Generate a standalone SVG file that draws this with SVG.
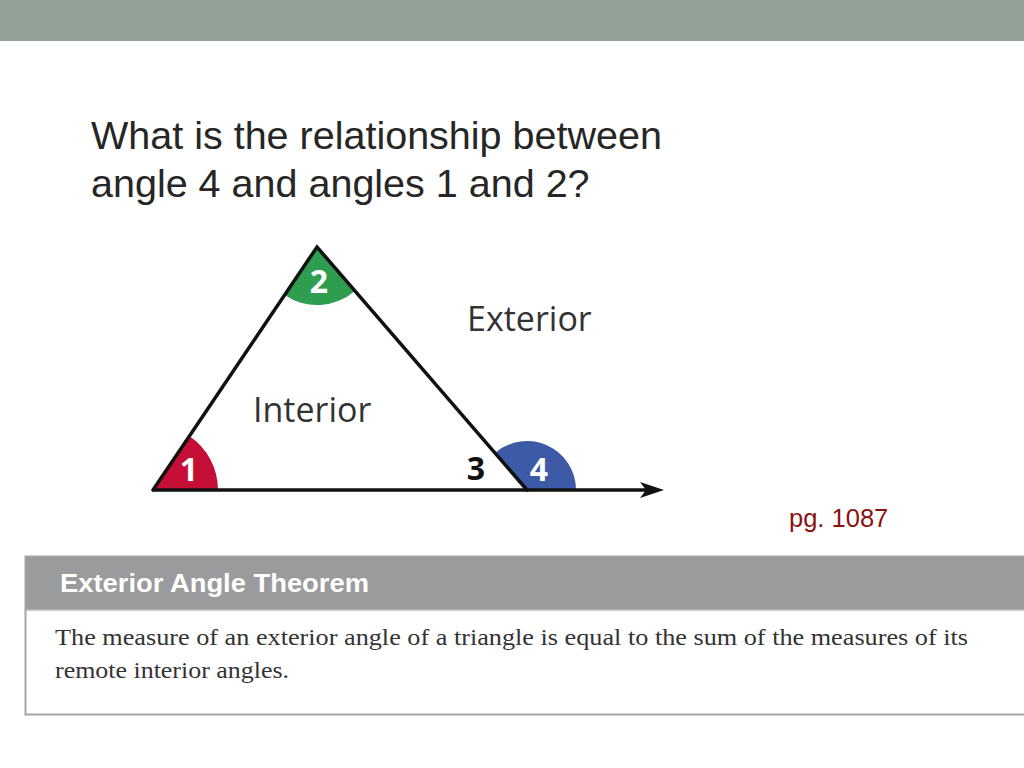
<svg xmlns="http://www.w3.org/2000/svg" width="1024" height="768" viewBox="0 0 1024 768">
<style>
.q{font-family:"Liberation Sans",Arial,sans-serif;font-size:39.5px;fill:#262626}
.lbl{font-family:"Open Sans","Noto Sans",sans-serif;font-size:34px;fill:#333}
.num{font-family:"Open Sans","Noto Sans",sans-serif;font-size:32px;font-weight:700;fill:#fff}
.edge{stroke:#111;stroke-width:3.5;fill:none;stroke-linecap:round}
.body{font-family:"Liberation Serif","Times New Roman",serif;font-size:24px;fill:#333}
</style>
<rect width="1024" height="768" fill="#fff"/>
<rect x="0" y="0" width="1024" height="41" fill="#91a196"/>
<text class="q" x="91" y="149">What is the relationship between</text>
<text class="q" x="91" y="197">angle 4 and angles 1 and 2?</text>
<g id="angle1">
<path d="M153,490 L218,490 A65,65 0 0 0 189.3,436.1 Z" fill="#c50f36"/>
<text class="num" x="189" y="481" text-anchor="middle">1</text>
</g>
<g id="angle2">
<path d="M317,247 L284.5,295.1 A58,58 0 0 0 354.9,290.9 Z" fill="#2f9d4f"/>
<text class="num" x="319" y="293" text-anchor="middle">2</text>
</g>
<g id="angle4">
<path d="M527,490 L576,490 A49,49 0 0 0 495,453 Z" fill="#3c5aa6"/>
<text class="num" x="539" y="481" text-anchor="middle">4</text>
</g>
<g id="triangle">
<path class="edge" d="M153,490 L317,247 L527,490"/>
<line x1="153" y1="490" x2="648" y2="490" stroke="#111" stroke-width="3.5"/>
<path d="M640,482 L664,490 L640,498 L646,490 Z" fill="#111"/>
</g>
<text x="476" y="480" text-anchor="middle" style="font-family:'Open Sans','Noto Sans',sans-serif;font-size:32px;font-weight:700;fill:#111">3</text>
<text class="lbl" x="467" y="331">Exterior</text>
<text class="lbl" x="253" y="422">Interior</text>
<text x="789" y="527" style="font-family:'Liberation Sans',Arial,sans-serif;font-size:25.5px;fill:#8b1010">pg. 1087</text>
<g id="theorem">
<rect x="25.5" y="556.5" width="1010" height="158" fill="#fff" stroke="#a5a5a5" stroke-width="2"/>
<rect x="26" y="557" width="1000" height="53" fill="#9a9b9d"/>
<line x1="26" y1="610" x2="1024" y2="610" stroke="#bdbdbd" stroke-width="1.5"/>
<text x="60" y="592" textLength="309" lengthAdjust="spacingAndGlyphs" style="font-family:'Liberation Sans',Arial,sans-serif;font-size:25px;font-weight:700;fill:#fff">Exterior Angle Theorem</text>
<text class="body" x="55" y="645" textLength="913" lengthAdjust="spacingAndGlyphs">The measure of an exterior angle of a triangle is equal to the sum of the measures of its</text>
<text class="body" x="55" y="678" textLength="234" lengthAdjust="spacingAndGlyphs">remote interior angles.</text>
</g>
</svg>
